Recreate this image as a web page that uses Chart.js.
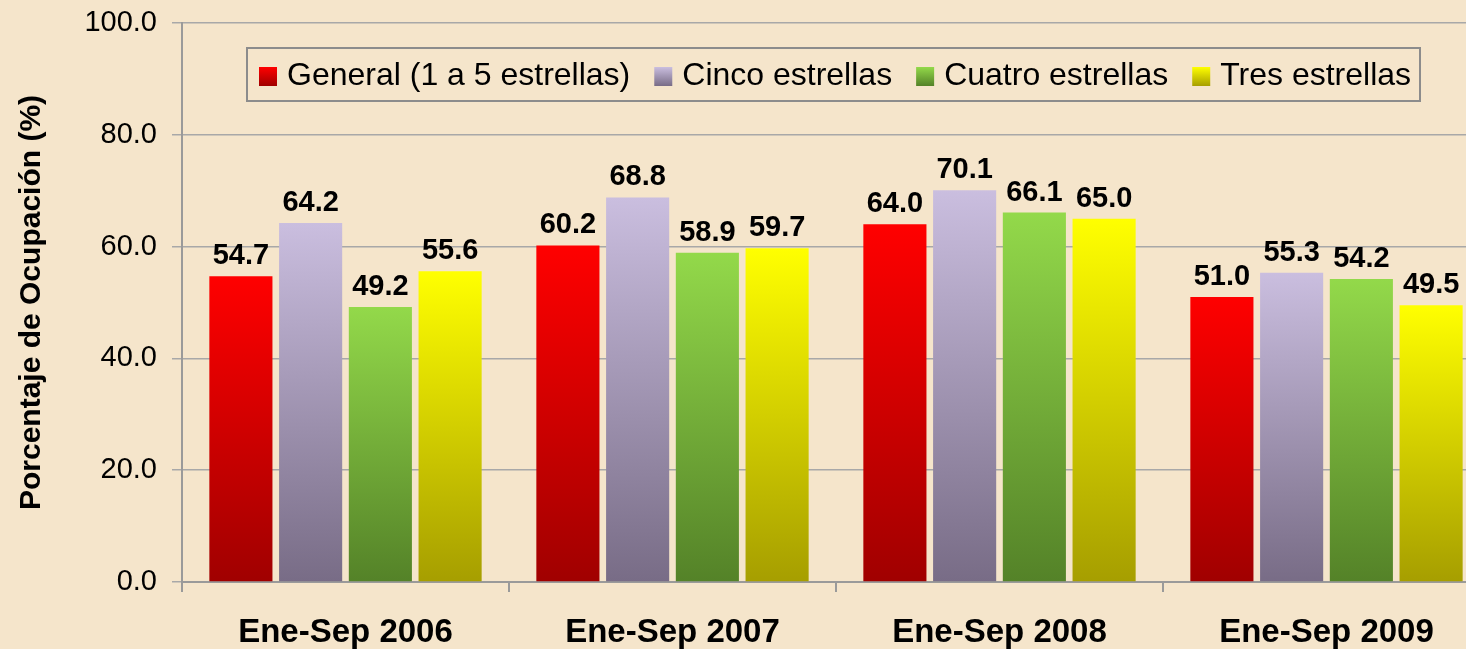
<!DOCTYPE html>
<html><head><meta charset="utf-8">
<script src="https://cdn.jsdelivr.net/npm/chart.js@4"></script>
<style>
html,body{margin:0;padding:0;overflow:hidden;background:#f5e5cb;}
#wrap{width:1466px;height:649px;overflow:hidden;position:relative;}
canvas{display:block;}
</style></head><body>
<div id="wrap"><canvas id="c" width="1490" height="649"></canvas></div>
<script>
const categories = ['Ene-Sep 2006', 'Ene-Sep 2007', 'Ene-Sep 2008', 'Ene-Sep 2009'];
const seriesNames = ['General (1 a 5 estrellas)', 'Cinco estrellas', 'Cuatro estrellas', 'Tres estrellas'];
const generalValues = [54.7, 60.2, 64.0, 51.0];
const cincoValues = [64.2, 68.8, 70.1, 55.3];
const cuatroValues = [49.2, 58.9, 66.1, 54.2];
const tresValues = [55.6, 59.7, 65.0, 49.5];
const yTicks = [0, 20, 40, 60, 80, 100];

const FONT = '"Liberation Sans", Arial, sans-serif';
const palette = [
  ['#ff0000', '#a00000'],
  ['#cabedf', '#786c86'],
  ['#93d94a', '#548228'],
  ['#ffff00', '#a69e00']
];

function grad(top, bottom) {
  return (ctx) => {
    const chart = ctx.chart;
    if (!chart.chartArea || ctx.type !== 'data') return top;
    const ys = chart.scales.y;
    const y0 = ys.getPixelForValue(ctx.raw);
    const y1 = ys.getPixelForValue(0);
    const g = chart.ctx.createLinearGradient(0, y0, 0, y1);
    g.addColorStop(0, top);
    g.addColorStop(1, bottom);
    return g;
  };
}

const seriesValues = [generalValues, cincoValues, cuatroValues, tresValues];
const datasets = seriesNames.map((name, i) => ({
  label: name,
  data: seriesValues[i],
  backgroundColor: grad(palette[i][0], palette[i][1]),
  borderWidth: 0,
  categoryPercentage: 0.853,
  barPercentage: 0.905
}));

const dataLabels = {
  id: 'dataLabels',
  afterDatasetsDraw(chart) {
    const ctx = chart.ctx;
    ctx.save();
    ctx.font = 'bold 29px ' + FONT;
    ctx.fillStyle = '#000';
    ctx.textAlign = 'center';
    ctx.textBaseline = 'alphabetic';
    chart.data.datasets.forEach((ds, i) => {
      chart.getDatasetMeta(i).data.forEach((bar, j) => {
        ctx.fillText(ds.data[j].toFixed(1), bar.x, bar.y - 12);
      });
    });
    ctx.restore();
  }
};

const boxLegend = {
  id: 'boxLegend',
  afterDraw(chart) {
    const ctx = chart.ctx;
    ctx.save();
    ctx.strokeStyle = '#8c8c8c';
    ctx.lineWidth = 2;
    ctx.strokeRect(247, 48, 1173, 53);
    ctx.font = '32px ' + FONT;
    ctx.textBaseline = 'middle';
    ctx.textAlign = 'left';
    let x = 259;
    chart.data.datasets.forEach((ds, i) => {
      const g = ctx.createLinearGradient(0, 67, 0, 86);
      g.addColorStop(0, palette[i][0]);
      g.addColorStop(1, palette[i][1]);
      ctx.fillStyle = g;
      ctx.fillRect(x, 67, 18, 19);
      x += 18 + 10;
      ctx.fillStyle = '#000';
      ctx.fillText(ds.label, x, 76);
      x += ctx.measureText(ds.label).width + 24;
    });
    ctx.restore();
  }
};

new Chart(document.getElementById('c'), {
  type: 'bar',
  data: { labels: categories, datasets: datasets },
  options: {
    responsive: false,
    animation: false,
    layout: { padding: { top: 23, left: 0, right: 0, bottom: 0 } },
    plugins: { legend: { display: false }, tooltip: { enabled: false } },
    scales: {
      x: {
        afterFit(s) { s.height = 67; s.paddingLeft = 0; s.paddingRight = 0; },
        grid: { display: true, offset: true, drawOnChartArea: false, drawTicks: true, tickLength: 10, color: '#9a9a9a', lineWidth: 2 },
        border: { display: true, color: '#9a9a9a', width: 2 },
        ticks: { color: '#000', font: { family: FONT, size: 33, weight: 'bold' }, padding: 21, maxRotation: 0 }
      },
      y: {
        min: 0, max: 100,
        afterFit(s) { s.width = 182; s.paddingTop = 0; s.paddingBottom = 0; },
        afterBuildTicks(s) { s.ticks = yTicks.map(v => ({ value: v })); },
        grid: { color: '#a8a8a8', lineWidth: 1.5, tickLength: 10, drawTicks: true },
        border: { display: true, color: '#9a9a9a', width: 2 },
        ticks: { color: '#000', font: { family: FONT, size: 29 }, padding: 15, callback: v => Number(v).toFixed(1) },
        title: { display: true, text: 'Porcentaje de Ocupación (%)', color: '#000', font: { family: FONT, size: 30, weight: 'bold' }, padding: { top: 14, bottom: 0 } }
      }
    }
  },
  plugins: [dataLabels, boxLegend]
});
</script>
</body></html>
